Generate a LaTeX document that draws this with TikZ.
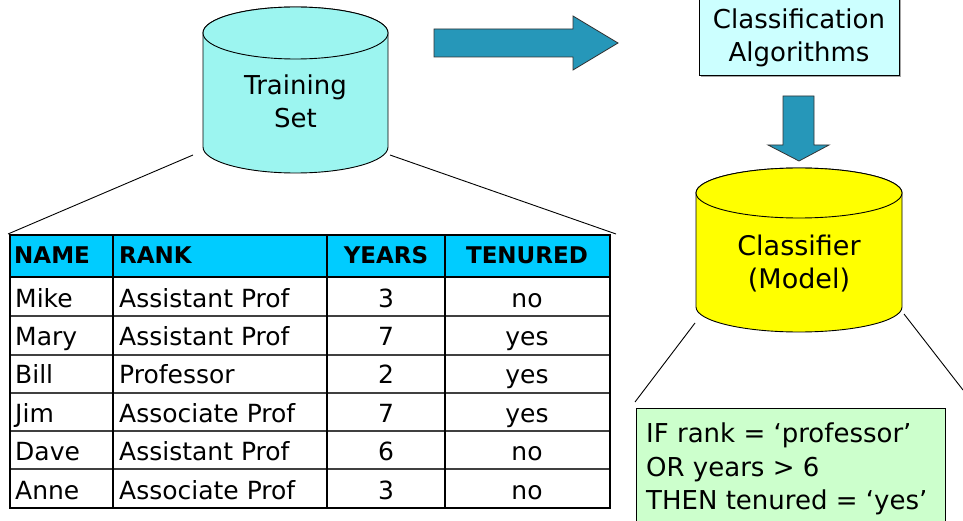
\documentclass[tikz,border=0pt]{standalone}
\usepackage{fontspec}
\setmainfont{DejaVu Sans}
\definecolor{cylcol}{HTML}{9CF5F0}
\definecolor{arrcol}{HTML}{2697B9}
\definecolor{hdrcol}{HTML}{00CCFF}
\definecolor{algocol}{HTML}{CCFFFF}
\definecolor{rulecol}{HTML}{CCFFCC}
\definecolor{yelcol}{HTML}{FFFF00}
\definecolor{gridcol}{HTML}{404040}
\begin{document}
\begin{tikzpicture}[x=1pt,y=-1pt,
  txt/.style={inner sep=0pt, font=\fontsize{26}{33}\selectfont},
  cell/.style={inner sep=0pt, font=\fontsize{25}{30}\selectfont},
  hcell/.style={inner sep=0pt, font=\fontsize{23}{28}\selectfont\bfseries},
  outline/.style={draw=black, line width=0.9pt},
  blockarrow/.style={fill=arrcol, draw=black!80, line width=0.8pt, line join=miter},
  conn/.style={draw=black, line width=0.9pt}]
\useasboundingbox (0,0) rectangle (963,521);

% ---- Training set cylinder ----
\path[fill=cylcol, outline] (203,33) -- (203,147)
  arc[start angle=180, end angle=0, x radius=92.5, y radius=26] -- (388,33)
  arc[start angle=0, end angle=-180, x radius=92.5, y radius=26] -- cycle;
\path[fill=cylcol, outline] (295.5,33) ellipse [x radius=92.5, y radius=26];
\node[txt, anchor=base] (train1) at (295.5,95) {Training};
\node[txt, anchor=base] (train2) at (295.5,128) {Set};
\coordinate (trainL) at (193,155);
\coordinate (trainR) at (390,155);

% ---- right block arrow ----
\path[blockarrow] (434,29) -- (573,29) -- (573,16) -- (618,43) -- (573,70) -- (573,57) -- (434,57) -- cycle;

% ---- Classification algorithms box ----
\path[fill=black!35] (700.5,-2) rectangle (900.5,77.5);
\node[outline, fill=algocol, minimum width=200pt, minimum height=79pt, inner sep=0pt, anchor=south west] (algo) at (699,76) {};
\node[txt, anchor=base] (algo1) at (799,29) {Classification};
\node[txt, anchor=base] (algo2) at (799,62) {Algorithms};

% ---- down block arrow ----
\path[blockarrow] (783,96) -- (814,96) -- (814,145) -- (829,145) -- (799,161) -- (768,145) -- (783,145) -- cycle;

% ---- Classifier cylinder ----
\path[fill=yelcol, outline] (696,193) -- (696,307)
  arc[start angle=180, end angle=0, x radius=103, y radius=25] -- (902,193)
  arc[start angle=0, end angle=-180, x radius=103, y radius=25] -- cycle;
\path[fill=yelcol, outline] (799,193) ellipse [x radius=103, y radius=25];
\node[txt, font=\fontsize{27}{33}\selectfont, anchor=base] (clf1) at (799,255) {Classifier};
\node[txt, font=\fontsize{27}{33}\selectfont, anchor=base] (clf2) at (799,288) {(Model)};
\coordinate (clfL) at (695,323);
\coordinate (clfR) at (904,314);

% ---- rule box ----
\node[outline, fill=rulecol, minimum width=309pt, minimum height=125pt, inner sep=0pt, anchor=north west] (rule) at (636,408) {};
\node[txt, anchor=base west] (r1) at (646,442) {IF rank = ‘professor’};
\node[txt, anchor=base west] (r2) at (646,476) {OR years > 6};
\node[txt, anchor=base west] (r3) at (646,509) {THEN tenured = ‘yes’};
\coordinate (ruleL) at (635,402);
\coordinate (edgeR) at (963,390);

% ---- table ----
\fill[hdrcol] (10,235) rectangle (610,277);
\foreach \y in {316,355,393,431,469}
  \draw[gridcol, line width=1.3pt] (10,\y) -- (610,\y);
\draw[black, line width=2.6pt] (10,277) -- (610,277);
\foreach \x in {113,327,445}
  \draw[black, line width=1.8pt] (\x,235) -- (\x,508);
\draw[black, line width=1.8pt] (10,235) rectangle (610,508);
\coordinate (tabL) at (8,234);
\coordinate (tabR) at (616,234);

\node[hcell, anchor=base west] (hn) at (14,264) {NAME};
\node[hcell, anchor=base west] (hr) at (119,264) {RANK};
\node[hcell, anchor=base] (hy) at (386,264) {YEARS};
\node[hcell, anchor=base] (ht) at (527,264) {TENURED};

\foreach \n/\r/\yr/\t [count=\i] in {Mike/Assistant Prof/3/no, Mary/Assistant Prof/7/yes, Bill/Professor/2/yes, Jim/Associate Prof/7/yes, Dave/Assistant Prof/6/no, Anne/Associate Prof/3/no}{
  \pgfmathsetmacro{\yy}{307+(\i-1)*38.4}
  \node[cell, anchor=base west] (n\i) at (15,\yy) {\n};
  \node[cell, anchor=base west] (k\i) at (119,\yy) {\r};
  \node[cell, anchor=base] (y\i) at (386,\yy) {\yr};
  \node[cell, anchor=base] (t\i) at (527,\yy) {\t};
}

% ---- connectors ----
\draw[conn] (trainL) -- (tabL);
\draw[conn] (trainR) -- (tabR);
\draw[conn] (clfL) -- (ruleL);
\draw[conn] (clfR) -- (edgeR);
\end{tikzpicture}
\end{document}
